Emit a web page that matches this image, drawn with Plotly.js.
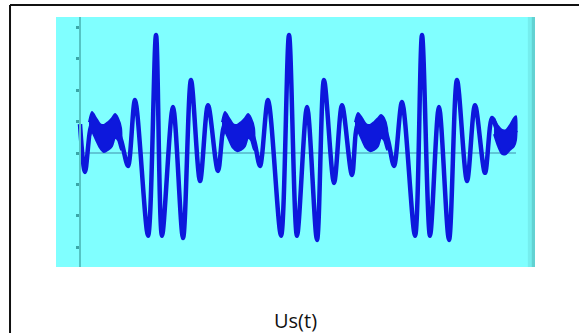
<!DOCTYPE html>
<html>
<head>
<meta charset="utf-8">
<script src="https://cdn.plot.ly/plotly-3.0.1.min.js"></script>
<style>html,body{margin:0;padding:0;background:#fff;}#chart{width:579px;height:333px;}</style>
</head>
<body>
<div id="chart"></div>
<script>
// Signal Us(t): time samples (arbitrary units, ~20 per period) and values (one unit per y tick)
const t = [0.00, 0.75, 1.80, 2.56, 3.46, 4.36, 5.26, 6.17, 7.22, 8.27, 10.23, 11.43, 12.33, 13.98, 15.49, 16.69, 18.05, 19.25, 20.75,
  21.80, 22.71, 23.61, 24.36, 25.26, 26.17, 27.07, 28.27, 30.23, 31.43, 32.63, 34.14, 35.64, 36.69, 38.20, 39.40, 40.90,
  41.80, 42.71, 43.61, 44.51, 45.56, 46.32, 47.22, 48.42, 50.38, 51.43, 52.63, 53.98, 55.49, 56.69, 58.20, 59.40, 60.90,
  61.95, 62.86, 63.76, 64.66, 65.56];
const u = [0.92, -0.60, 0.92, 0.73, 0.48, 0.57, 0.86, 0.41, -0.41, 1.68, -2.63, 3.75, -2.63, 1.46, -2.70, 2.32, -0.89, 1.52, -0.57,
  0.92, 0.73, 0.48, 0.57, 0.86, 0.41, -0.41, 1.68, -2.63, 3.75, -2.63, 1.46, -2.76, 2.32, -0.95, 1.52, -0.70,
  0.92, 0.73, 0.48, 0.57, 0.86, 0.41, -0.41, 1.62, -2.63, 3.75, -2.63, 1.46, -2.76, 2.32, -0.89, 1.52, -0.63,
  1.11, 0.67, 0.41, 0.48, 0.73];

// Noisy (ripple) stretches of the trace: time samples with upper and lower envelope values
const bandT = [
  [1.35, 1.80, 2.41, 3.01, 3.61, 4.21, 4.81, 5.26, 5.71, 6.17],
  [21.35, 21.80, 22.41, 23.01, 23.61, 24.21, 24.81, 25.26, 25.71, 26.17],
  [41.35, 41.80, 42.41, 43.01, 43.61, 44.21, 44.81, 45.26, 45.71, 46.17],
  [62.26, 62.86, 63.46, 64.06, 64.66, 65.26, 65.56]
];
const bandUpper = [
  [0.98, 1.30, 1.11, 0.92, 0.89, 0.98, 1.11, 1.24, 1.11, 0.79],
  [0.98, 1.30, 1.11, 0.92, 0.89, 0.98, 1.11, 1.24, 1.11, 0.79],
  [0.98, 1.27, 1.11, 0.92, 0.89, 0.98, 1.11, 1.21, 1.11, 0.79],
  [1.11, 0.86, 0.73, 0.73, 0.89, 1.11, 1.17]
];
const bandLower = [
  [0.41, 0.67, 0.41, 0.16, 0.03, 0.10, 0.22, 0.48, 0.41, 0.10],
  [0.41, 0.67, 0.41, 0.16, 0.06, 0.10, 0.22, 0.48, 0.41, 0.10],
  [0.41, 0.67, 0.41, 0.16, 0.06, 0.10, 0.22, 0.48, 0.41, 0.10],
  [0.60, 0.22, -0.03, -0.03, 0.10, 0.22, 0.41]
];
const yTicks = [-3, -2, -1, 0, 1, 2, 3, 4];
const caption = 'Us(t)';

const blue = '#0d18dc';
const traces = [{
  x: t, y: u, type: 'scatter', mode: 'lines',
  line: {color: blue, width: 4.5, shape: 'spline', smoothing: 0.9},
  hoverinfo: 'skip', showlegend: false
}];
bandT.forEach((bt, i) => {
  const xs = bt.concat(bt.slice().reverse());
  const ys = bandUpper[i].concat(bandLower[i].slice().reverse());
  traces.push({
    x: xs, y: ys, type: 'scatter', mode: 'lines', fill: 'toself', fillcolor: blue,
    line: {color: blue, width: 2, shape: 'spline', smoothing: 0.7},
    hoverinfo: 'skip', showlegend: false
  });
});

const layout = {
  width: 579, height: 333,
  margin: {l: 56, r: 44, t: 17, b: 66},
  paper_bgcolor: '#ffffff',
  plot_bgcolor: '#80ffff',
  showlegend: false,
  xaxis: {range: [-3.61, 68.42], showgrid: false, zeroline: false, showline: false, ticks: '', showticklabels: false},
  yaxis: {range: [-3.62, 4.32], anchor: 'free', position: 0.0501, showgrid: false, zeroline: false,
    showline: true, linecolor: '#55c4c4', linewidth: 2,
    tickvals: yTicks, ticks: 'outside', ticklen: 3, tickwidth: 3, tickcolor: '#3aa6a8', showticklabels: false},
  shapes: [
    {type: 'line', xref: 'x', yref: 'y', x0: t[0], x1: t[t.length - 1], y0: 0, y1: 0,
      line: {color: '#3f8fae', width: 1.2}, layer: 'below'},
    {type: 'rect', xref: 'paper', yref: 'paper', x0: 0.985, x1: 0.993, y0: 0, y1: 1,
      fillcolor: '#74eeee', line: {width: 0}, layer: 'below'},
    {type: 'rect', xref: 'paper', yref: 'paper', x0: 0.993, x1: 1.0, y0: 0, y1: 1,
      fillcolor: '#62d2d2', line: {width: 0}, layer: 'below'},
    {type: 'line', xref: 'paper', yref: 'paper', x0: -0.096, x1: 1.1, y0: 1.048, y1: 1.048,
      line: {color: '#111', width: 2}},
    {type: 'line', xref: 'paper', yref: 'paper', x0: -0.096, x1: -0.096, y0: 1.048, y1: -0.3,
      line: {color: '#111', width: 2}}
  ],
  annotations: [
    {text: caption, xref: 'paper', yref: 'paper', x: 0.499, y: -0.212, xanchor: 'center', yanchor: 'middle',
      showarrow: false, font: {family: 'Open Sans, sans-serif', size: 20, color: '#111'}}
  ]
};

Plotly.newPlot('chart', traces, layout, {staticPlot: true, displayModeBar: false});
</script>
</body>
</html>
